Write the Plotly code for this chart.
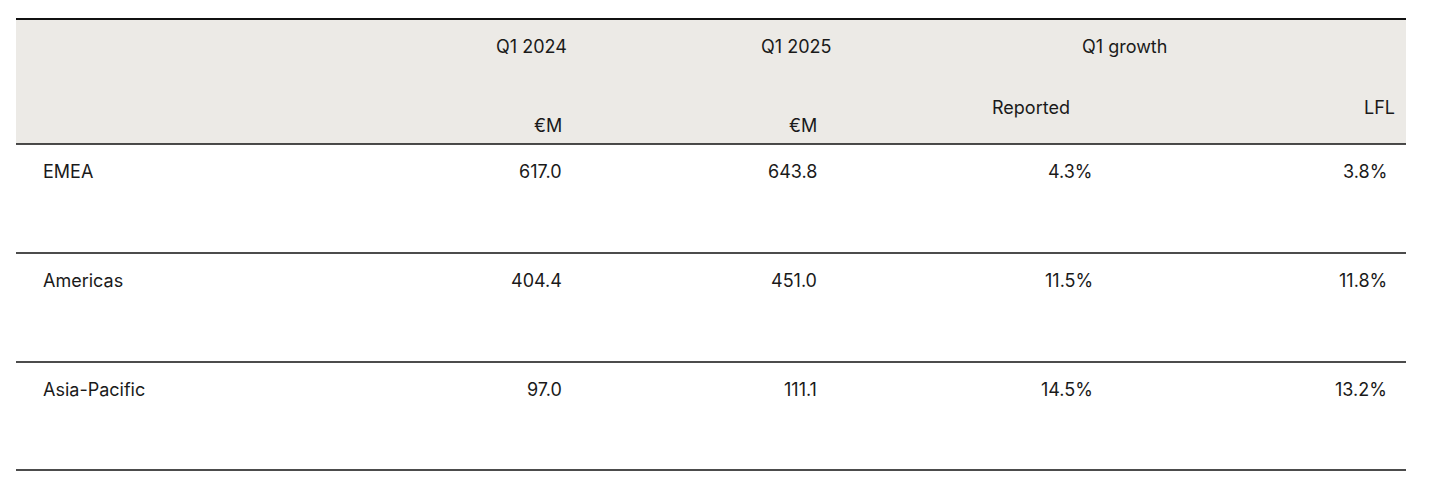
import plotly.graph_objects as go

regions = ["EMEA", "Americas", "Asia-Pacific"]
q1_2024 = [617.0, 404.4, 97.0]
q1_2025 = [643.8, 451.0, 111.1]
reported = [4.3, 11.5, 14.5]
lfl = [3.8, 11.8, 13.2]

FONT = dict(family="Inter, Roboto, sans-serif", size=18, color="#1a1a1a")
row_top = [143, 252, 361]
row_h = 109

fig = go.Figure()
ann = []

def txt(x, y, s, anchor):
    ann.append(dict(x=x, y=y, text=s, showarrow=False, xanchor=anchor,
                    yanchor="middle", font=FONT, xref="x", yref="y"))

# header band
fig.add_shape(type="rect", x0=15, x1=1405, y0=18, y1=143,
              fillcolor="#eceae6", line_width=0, layer="below")
fig.add_shape(type="line", x0=15, x1=1405, y0=18, y1=18, line=dict(color="#111", width=2))
txt(530, 45, "Q1 2024", "center")
txt(795, 45, "Q1 2025", "center")
txt(1123, 45, "Q1 growth", "center")
txt(563, 124, "€M", "right")
txt(818, 124, "€M", "right")
txt(1030, 106, "Reported", "center")
txt(1396, 106, "LFL", "right")

for i, r in enumerate(regions):
    y0 = row_top[i]
    fig.add_shape(type="line", x0=15, x1=1405, y0=y0, y1=y0, line=dict(color="#111", width=1.5))
    yt = y0 + 27
    txt(40, yt, r, "left")
    txt(563, yt, f"{q1_2024[i]:.1f}", "right")
    txt(818, yt, f"{q1_2025[i]:.1f}", "right")
    txt(1094, yt, f"{reported[i]:.1f}%", "right")
    txt(1388, yt, f"{lfl[i]:.1f}%", "right")
yb = row_top[-1] + row_h - 1
fig.add_shape(type="line", x0=15, x1=1405, y0=yb, y1=yb, line=dict(color="#111", width=1.5))

# page adds ~7px offset, shift ranges to compensate
fig.update_layout(
    width=1432, height=500, margin=dict(l=0, r=0, t=0, b=0),
    paper_bgcolor="white", plot_bgcolor="white", annotations=ann,
    xaxis=dict(range=[7, 1439], visible=False, fixedrange=True),
    yaxis=dict(range=[507, 7], visible=False, fixedrange=True),
    showlegend=False,
)
fig.write_html("out.html")
